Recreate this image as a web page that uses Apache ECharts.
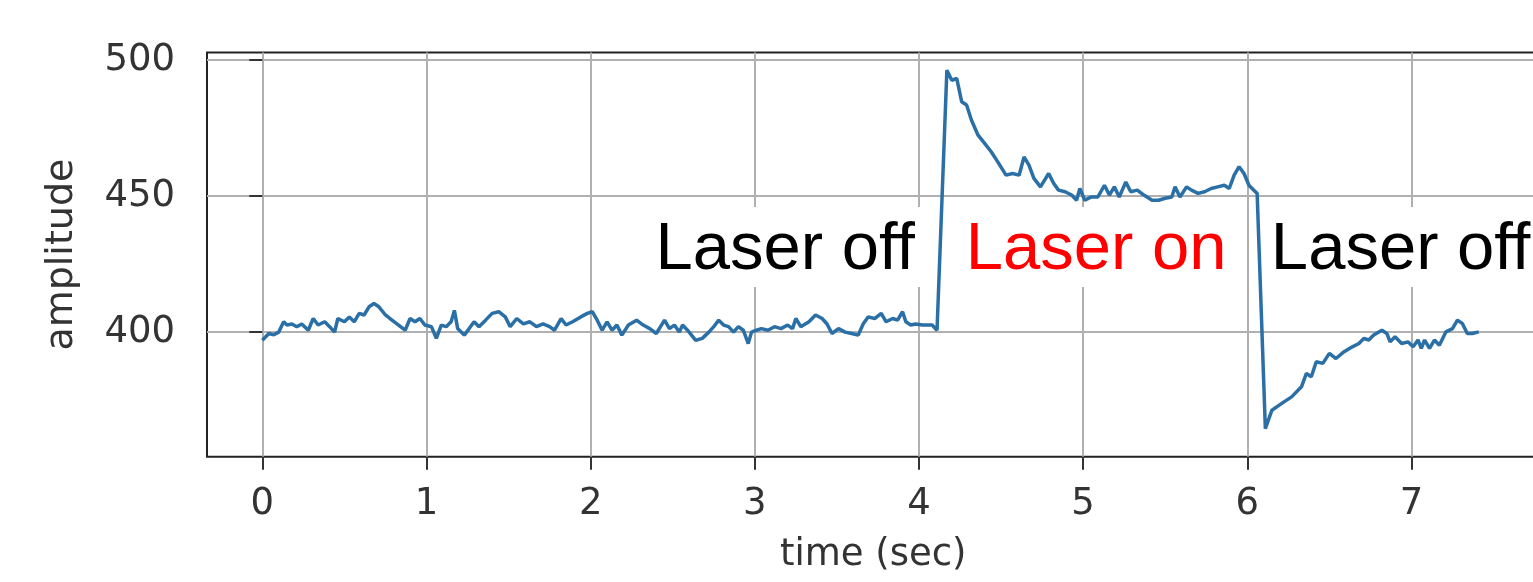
<!DOCTYPE html>
<html>
<head>
<meta charset="utf-8">
<script src="https://cdn.jsdelivr.net/npm/echarts@6/dist/echarts.min.js"></script>
<style>
  html, body { margin: 0; padding: 0; background: #fff; overflow: hidden; }
  #chart { width: 1546px; height: 582px; }
</style>
</head>
<body>
<div id="chart"></div>
<script>
// ---- data ----
// segment 1: laser off
const timeOff1 = [0.00,0.04,0.07,0.10,0.13,0.15,0.18,0.21,0.24,0.28,0.31,0.34,0.38,0.41,0.44,0.46,0.50,0.53,0.56,0.59,0.62,0.65,0.68,0.71,0.75,0.79,0.83,0.87,0.90,0.93,0.96,0.99,1.03,1.06,1.09,1.12,1.15,1.17,1.19,1.23,1.26,1.29,1.32,1.36,1.40,1.44,1.48,1.51,1.55,1.59,1.63,1.67,1.71,1.75,1.78,1.82,1.85,1.89,1.94,1.98,2.01,2.04,2.07];
const ampOff1  = [397,399.5,399,400,403.8,402.6,403,402,403,400.7,405,402.6,403.8,402,400,405,403.8,405.6,403.8,406.9,406.3,409.3,410.5,409.3,406.3,404.4,402.6,400.7,405,403.8,405,402.6,402,397.7,402.6,402,403.8,408,401.3,398.9,401.3,403.8,402,404.4,406.9,407.5,405.6,402,405,403,403.8,402,403,402,400.7,405,402.6,403.8,405.6,406.9,407.5,404.4,400.7];
const timeOff1b = [2.10,2.13,2.16,2.19,2.23,2.28,2.32,2.36,2.40,2.45,2.48,2.51,2.54,2.56,2.59,2.64,2.68,2.72,2.75,2.78,2.81,2.84,2.87,2.90,2.93,2.96,2.98,3.01,3.04,3.08,3.12,3.16,3.20,3.23,3.25,3.28,3.33,3.37,3.41,3.44,3.47,3.51,3.55,3.59,3.63,3.66,3.69,3.73,3.77,3.80,3.84,3.87,3.90,3.92,3.95,3.98,4.02,4.08,4.11];
const ampOff1b  = [403.8,400.7,402.6,398.9,402.6,404.4,402.6,401.3,399.5,404.4,401.3,402.6,400,402.6,400.7,397,397.7,400,402,404.4,402.6,402,400,402,400.7,395.8,400,400.7,401.3,400.7,402,401.3,402.6,401.3,405,402,403.8,406.3,405,403,399.5,401.3,400,399.5,398.9,403,405.6,405,406.9,403.8,405,404.4,407.5,403.8,402.6,403,402.6,402.6,400.7];
// segment 2: laser on
const timeOn = [4.17,4.20,4.23,4.26,4.29,4.32,4.36,4.40,4.44,4.48,4.53,4.57,4.61,4.64,4.67,4.70,4.74,4.79,4.82,4.85,4.89,4.93,4.96,4.98,5.01,5.05,5.09,5.13,5.16,5.19,5.22,5.26,5.29,5.33,5.37,5.42,5.46,5.50,5.54,5.56,5.59,5.63,5.66,5.70,5.74,5.78,5.82,5.86,5.89,5.92,5.95,5.98,6.01,6.04,6.06];
const ampOn  = [496.3,492.6,493.3,484.7,483.5,477.9,472.4,469.4,466.3,462.6,457.7,458.3,457.7,464.4,461.4,456.5,453.4,458.3,454.7,452.2,451.6,450.4,448.5,452.8,448.5,449.7,449.7,454.0,450.4,453.4,449.7,455.2,451.6,452.2,450.4,448.5,448.5,449.2,449.7,453.4,449.7,453.4,452.2,451.0,451.6,452.8,453.4,454.0,452.8,457.7,460.8,458.3,454.0,452.2,451.0];
// segment 3: laser off again
const timeOff2 = [6.11,6.15,6.21,6.27,6.33,6.36,6.39,6.42,6.46,6.50,6.54,6.59,6.64,6.68,6.71,6.74,6.77,6.82,6.85,6.87,6.90,6.94,6.98,7.01,7.04,7.06,7.08,7.11,7.14,7.17,7.21,7.25,7.28,7.31,7.34,7.37,7.41];
const ampOff2  = [364.5,371.3,373.8,376.2,379.9,384.8,383.6,389.1,388.5,392.2,390.3,392.8,394.6,395.8,397.7,397.1,398.9,400.7,399.5,396.4,398.3,395.8,396.4,394.6,397.1,394.0,397.1,394.0,397.1,395.2,400.1,401.3,404.4,403.2,399.5,399.5,400.1];

const xTicks = [0, 1, 2, 3, 4, 5, 6, 7];
const yTicks = [400, 450, 500];

const annotations = [
  { name: 'Laser off', t: 3.185, v: 431.3, color: '#000000', w: 278 },
  { name: 'Laser on',  t: 5.079, v: 431.3, color: '#ff0000', w: 274 },
  { name: 'Laser off', t: 6.934, v: 431.3, color: '#000000', w: 270 }
];

// ---- build ----
const allTime = [].concat(timeOff1, timeOff1b, timeOn, timeOff2);
const allAmp  = [].concat(ampOff1, ampOff1b, ampOn, ampOff2);
const seriesData = allTime.map((t, i) => [t, allAmp[i]]);

const chart = echarts.init(document.getElementById('chart'), null, { renderer: 'canvas' });
const tickFont = 'DejaVu Sans';
chart.setOption({
  animation: false,
  backgroundColor: '#ffffff',
  grid: {
    left: 207, top: 52.5, right: 6.5, bottom: 125.3,
    show: true, borderColor: '#222222', borderWidth: 2, backgroundColor: 'transparent'
  },
  xAxis: {
    type: 'value', min: -0.337, max: 7.78,
    name: 'time (sec)', nameLocation: 'middle', nameGap: 80,
    nameTextStyle: { fontFamily: tickFont, fontSize: 37, color: '#333333' },
    axisLine: { show: false },
    axisTick: { show: true, inside: false, length: 13, customValues: xTicks,
      lineStyle: { color: '#333333', width: 2 } },
    axisLabel: { customValues: xTicks, fontFamily: tickFont, fontSize: 37, color: '#333333', margin: 29 },
    splitLine: { show: true, lineStyle: { color: '#b0b0b0', width: 2 } }
  },
  yAxis: {
    type: 'value', min: 354.2, max: 502.8,
    name: 'amplitude', nameLocation: 'middle', nameGap: 126,
    nameTextStyle: { fontFamily: tickFont, fontSize: 38, color: '#333333' },
    axisLine: { show: false },
    axisTick: { show: true, inside: false, length: 13, customValues: yTicks,
      lineStyle: { color: '#333333', width: 2 } },
    axisLabel: { customValues: yTicks, fontFamily: tickFont, fontSize: 37, color: '#333333', margin: 32 },
    splitLine: { show: true, lineStyle: { color: '#b0b0b0', width: 2 } }
  },
  series: [{
    type: 'line',
    data: seriesData,
    showSymbol: false,
    symbol: 'none',
    lineStyle: { color: '#2a70a6', width: 3.5 },
    markPoint: {
      silent: true,
      animation: false,
      data: annotations.map(a => ({
        name: a.name,
        coord: [a.t, a.v],
        symbol: 'rect',
        symbolSize: [a.w, 80],
        itemStyle: { color: '#ffffff' },
        label: {
          show: true, position: 'inside', formatter: a.name, offset: [0, 4],
          color: a.color, fontSize: 67, fontFamily: 'Liberation Sans'
        }
      }))
    }
  }]
});
</script>
</body>
</html>
